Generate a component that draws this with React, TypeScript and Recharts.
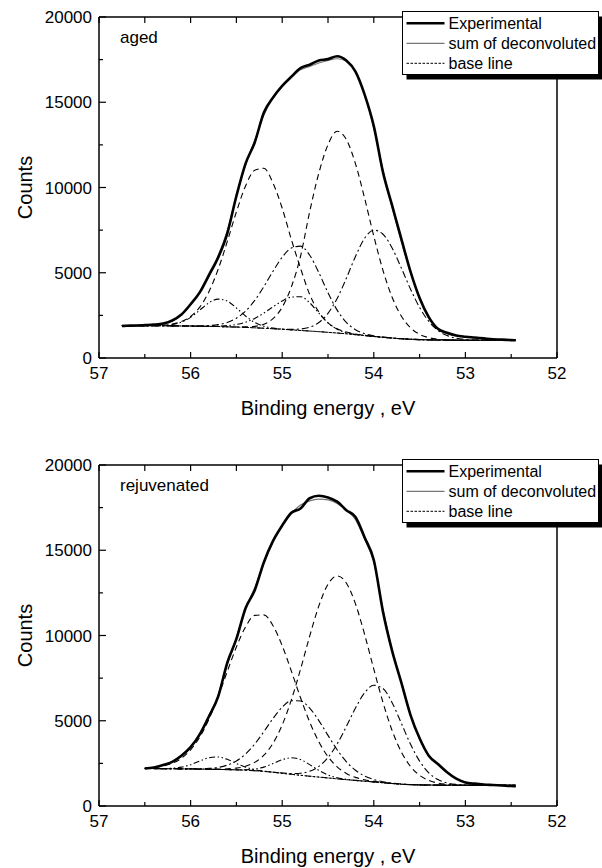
import React from 'react';
import { LineChart, Line, XAxis, YAxis, Label } from 'recharts';

// Binding-energy grids (eV)
const agedEnergy = [56.75, 56.7, 56.6, 56.5, 56.4, 56.3, 56.2, 56.1, 56.0, 55.9, 55.8, 55.7, 55.6, 55.5, 55.4, 55.3, 55.2, 55.1, 55.0, 54.9, 54.8, 54.7, 54.6, 54.5, 54.4, 54.3, 54.2, 54.1, 54.0, 53.9, 53.8, 53.7, 53.6, 53.5, 53.4, 53.3, 53.2, 53.1, 53.0, 52.9, 52.8, 52.7, 52.6, 52.5, 52.45];
const rejEnergy = [56.5, 56.4, 56.3, 56.2, 56.1, 56.0, 55.9, 55.8, 55.7, 55.6, 55.5, 55.4, 55.3, 55.2, 55.1, 55.0, 54.9, 54.8, 54.7, 54.6, 54.5, 54.4, 54.3, 54.2, 54.1, 54.0, 53.9, 53.8, 53.7, 53.6, 53.5, 53.4, 53.3, 53.2, 53.1, 53.0, 52.9, 52.8, 52.7, 52.6, 52.5, 52.45];

// aged sample (counts)
const agedExperimental = [1880, 1890, 1905, 1930, 1960, 2020, 2200, 2550, 3150, 3850, 4850, 5880, 7300, 9500, 11400, 12640, 14400, 15280, 15960, 16500, 17000, 17200, 17450, 17530, 17700, 17450, 16800, 15450, 13600, 10900, 8950, 7000, 5080, 3520, 2400, 1710, 1480, 1320, 1250, 1200, 1150, 1100, 1080, 1050, 1040];
const agedSum = [1890, 1895, 1905, 1925, 1955, 2020, 2180, 2530, 3120, 3900, 4950, 6000, 7450, 9500, 11350, 12750, 14250, 15250, 15950, 16450, 16900, 17100, 17300, 17450, 17550, 17400, 16800, 15450, 13500, 11000, 8800, 6850, 5050, 3500, 2350, 1680, 1420, 1300, 1220, 1180, 1140, 1100, 1075, 1050, 1040];
const agedBase = [1900, 1900, 1900, 1900, 1895, 1890, 1885, 1880, 1875, 1865, 1855, 1845, 1830, 1815, 1795, 1770, 1745, 1715, 1685, 1650, 1615, 1580, 1545, 1505, 1465, 1420, 1370, 1320, 1265, 1215, 1170, 1130, 1100, 1080, 1065, 1055, 1050, 1045, 1045, 1040, 1040, 1040, 1040, 1040, 1040];
// deconvoluted components, height above the base line
const agedPeak1 = [0, 0, 0, 0, 0, 20, 75, 220, 510, 940, 1380, 1610, 1510, 1120, 670, 320, 120, 35, 10, 0, 0, 0, 0, 0, 0, 0, 0, 0, 0, 0, 0, 0, 0, 0, 0, 0, 0, 0, 0, 0, 0, 0, 0, 0, 0];
const agedPeak2 = [0, 0, 0, 0, 13, 39, 104, 254, 561, 1120, 2033, 3347, 4992, 6758, 8296, 9237, 9380, 8540, 7100, 5300, 3650, 2150, 1150, 560, 250, 100, 35, 10, 0, 0, 0, 0, 0, 0, 0, 0, 0, 0, 0, 0, 0, 0, 0, 0, 0];
const agedPeak3 = [0, 0, 0, 0, 0, 0, 0, 0, 5, 17, 46, 113, 254, 518, 957, 1607, 2446, 3376, 4226, 4797, 4945, 4450, 3461, 2322, 1342, 670, 288, 107, 34, 10, 0, 0, 0, 0, 0, 0, 0, 0, 0, 0, 0, 0, 0, 0, 0];
const agedPeak4 = [0, 0, 0, 0, 0, 0, 0, 0, 0, 0, 10, 27, 68, 152, 307, 553, 892, 1287, 1662, 1920, 1980, 1662, 1087, 553, 220, 68, 16, 0, 0, 0, 0, 0, 0, 0, 0, 0, 0, 0, 0, 0, 0, 0, 0, 0, 0];
const agedPeak5 = [0, 0, 0, 0, 0, 0, 0, 0, 0, 0, 0, 0, 0, 0, 28, 86, 239, 592, 1295, 2520, 4353, 7000, 9300, 11008, 11830, 11398, 10020, 8044, 5885, 3928, 2393, 1330, 674, 311, 131, 50, 18, 6, 0, 0, 0, 0, 0, 0, 0];
const agedPeak6 = [0, 0, 0, 0, 0, 0, 0, 0, 0, 0, 0, 0, 0, 0, 0, 0, 0, 0, 8, 28, 86, 229, 538, 1115, 2029, 3253, 4588, 5702, 6234, 6045, 5281, 4156, 2950, 1884, 1086, 563, 264, 111, 42, 14, 4, 0, 0, 0, 0];

// rejuvenated sample (counts)
const rejExperimental = [2200, 2260, 2400, 2590, 2950, 3450, 4200, 5250, 6400, 8400, 9800, 11600, 12650, 14300, 15550, 16450, 17200, 17450, 18050, 18200, 18100, 17850, 17350, 16950, 15750, 14430, 11400, 9100, 7250, 5350, 3970, 2950, 2460, 1980, 1600, 1380, 1310, 1260, 1230, 1200, 1170, 1160];
const rejSum = [2210, 2270, 2400, 2610, 2990, 3450, 4250, 5300, 6500, 8300, 9850, 11600, 12800, 14250, 15500, 16450, 17150, 17650, 17900, 18000, 17950, 17750, 17350, 16800, 15650, 14300, 11500, 9150, 7200, 5350, 3950, 2950, 2430, 1960, 1600, 1400, 1310, 1260, 1230, 1210, 1190, 1180];
const rejBase = [2200, 2195, 2190, 2185, 2180, 2175, 2165, 2155, 2145, 2135, 2120, 2100, 2070, 2030, 1980, 1920, 1860, 1800, 1745, 1695, 1645, 1595, 1545, 1500, 1455, 1410, 1365, 1320, 1280, 1255, 1240, 1230, 1225, 1220, 1218, 1215, 1215, 1215, 1215, 1215, 1215, 1215];
const rejPeak1 = [0, 0, 7, 30, 99, 248, 469, 673, 731, 602, 376, 178, 64, 17, 4, 0, 0, 0, 0, 0, 0, 0, 0, 0, 0, 0, 0, 0, 0, 0, 0, 0, 0, 0, 0, 0, 0, 0, 0, 0, 0, 0];
const rejPeak2 = [28, 68, 152, 319, 620, 1120, 1880, 2937, 4262, 5751, 7210, 8406, 9110, 9177, 8596, 7479, 6052, 4551, 3182, 2068, 1249, 702, 366, 178, 80, 33, 13, 5, 0, 0, 0, 0, 0, 0, 0, 0, 0, 0, 0, 0, 0, 0];
const rejPeak3 = [0, 0, 0, 0, 0, 6, 18, 49, 119, 262, 523, 950, 1563, 2331, 3156, 3874, 4314, 4356, 3990, 3314, 2498, 1706, 1057, 594, 303, 140, 59, 22, 8, 0, 0, 0, 0, 0, 0, 0, 0, 0, 0, 0, 0, 0];
const rejPeak4 = [0, 0, 0, 0, 0, 0, 0, 0, 0, 0, 7, 29, 97, 251, 506, 793, 969, 922, 683, 394, 177, 62, 17, 4, 0, 0, 0, 0, 0, 0, 0, 0, 0, 0, 0, 0, 0, 0, 0, 0, 0, 0];
const rejPeak5 = [0, 0, 0, 0, 0, 0, 0, 6, 16, 42, 103, 232, 487, 947, 1700, 2832, 4363, 6221, 8214, 10039, 11357, 11900, 11534, 10353, 8602, 6617, 4713, 3106, 1894, 1071, 560, 271, 121, 50, 19, 7, 0, 0, 0, 0, 0, 0];
const rejPeak6 = [0, 0, 0, 0, 0, 0, 0, 0, 0, 0, 0, 0, 0, 0, 5, 16, 47, 124, 295, 629, 1198, 2041, 3112, 4248, 5189, 5672, 5525, 4741, 3580, 2381, 1393, 718, 326, 130, 45, 14, 4, 0, 0, 0, 0, 0];

const xTicks = [52, 52.5, 53, 53.5, 54, 54.5, 55, 55.5, 56, 56.5, 57];
const yTicks = [0, 2500, 5000, 7500, 10000, 12500, 15000, 17500, 20000];

const FONT = '"Liberation Sans", Arial, Helvetica, sans-serif';
const DASH = '6 4';
const DASH_DOT = '7 3 2 3';
const DASH_DOT_DOT = '6 2.5 1.5 2.5 1.5 2.5';
const BASE_DASH = '2.5 1.5';

const axisLine = { stroke: '#000', strokeWidth: 1.5 };

const BottomTick = (props: any) => {
  const { x, y, payload } = props;
  const major = Number.isInteger(payload.value);
  return (
    <g>
      <line x1={x} y1={y} x2={x} y2={y - (major ? 6 : 4)} stroke="#000" strokeWidth={1.2} />
      {major && (
        <text x={x} y={y + 21} textAnchor="middle" fontSize={17} fontFamily={FONT} fill="#000">
          {payload.value}
        </text>
      )}
    </g>
  );
};

const TopTick = (props: any) => {
  const { x, y } = props;
  return <line x1={x} y1={y} x2={x} y2={y + 6} stroke="#000" strokeWidth={1.2} />;
};

const LeftTick = (props: any) => {
  const { x, y, payload } = props;
  const major = payload.value % 5000 === 0;
  return (
    <g>
      <line x1={x} y1={y} x2={x + (major ? 7 : 4)} y2={y} stroke="#000" strokeWidth={1.2} />
      {major && (
        <text x={x - 7} y={y} dy="0.36em" textAnchor="end" fontSize={17} fontFamily={FONT} fill="#000">
          {payload.value}
        </text>
      )}
    </g>
  );
};

const RightTick = (props: any) => {
  const { x, y, payload } = props;
  const major = payload.value % 5000 === 0;
  return <line x1={x} y1={y} x2={x - (major ? 7 : 4)} y2={y} stroke="#000" strokeWidth={1.2} />;
};

interface Peak {
  key: string;
  values: number[];
  dash: string;
}

interface PanelProps {
  top: number;
  height: number;
  axisHeight: number;
  name: string;
  energy: number[];
  experimental: number[];
  sum: number[];
  base: number[];
  peaks: Peak[];
}

const LegendBox = () => (
  <g transform="translate(402.5, 11.5)">
    <rect x={4} y={5} width={196} height={63} fill="#000" />
    <rect x={0} y={0} width={196} height={63} fill="#fff" stroke="#000" strokeWidth={1} />
    <line x1={4} y1={11.8} x2={42} y2={11.8} stroke="#000" strokeWidth={2.6} />
    <line x1={4} y1={31.8} x2={42} y2={31.8} stroke="#777" strokeWidth={1.2} />
    <line x1={4} y1={51.8} x2={42} y2={51.8} stroke="#000" strokeWidth={1} strokeDasharray={BASE_DASH} />
    <text x={46} y={17.6} fontSize={16} fontFamily={FONT} fill="#000">Experimental</text>
    <text x={46} y={37.6} fontSize={16} fontFamily={FONT} fill="#000">sum of deconvoluted</text>
    <text x={46} y={57.6} fontSize={16} fontFamily={FONT} fill="#000">base line</text>
  </g>
);

const Panel = ({ top, height, axisHeight, name, energy, experimental, sum, base, peaks }: PanelProps) => {
  const data = energy.map((e, i) => {
    const row: Record<string, number> = {
      energy: e,
      experimental: experimental[i],
      sum: sum[i],
      base: base[i],
    };
    peaks.forEach(p => {
      row[p.key] = base[i] + p.values[i];
    });
    return row;
  });

  return (
    <div style={{ position: 'absolute', left: 0, top, width: 602, height }}>
      <LineChart width={602} height={height} data={data} margin={{ top: 0, right: 0, bottom: 0, left: 0 }}>
        <XAxis
          xAxisId="bottom"
          dataKey="energy"
          type="number"
          domain={[52, 57]}
          reversed
          allowDataOverflow
          ticks={xTicks}
          interval={0}
          height={axisHeight}
          tickSize={0}
          tickMargin={0}
          tickLine={false}
          axisLine={axisLine}
          tick={<BottomTick />}
        >
          <Label
            value="Binding energy , eV"
            position="insideTop"
            offset={43}
            fontSize={20}
            fontFamily={FONT}
            fill="#000"
          />
        </XAxis>
        <XAxis
          xAxisId="top"
          orientation="top"
          dataKey="energy"
          type="number"
          domain={[52, 57]}
          reversed
          allowDataOverflow
          ticks={xTicks}
          interval={0}
          height={17}
          tickSize={0}
          tickMargin={0}
          tickLine={false}
          axisLine={axisLine}
          tick={<TopTick />}
        />
        <YAxis
          yAxisId="left"
          type="number"
          domain={[0, 20000]}
          ticks={yTicks}
          interval={0}
          width={99}
          tickSize={0}
          tickMargin={0}
          tickLine={false}
          axisLine={axisLine}
          tick={<LeftTick />}
        >
          <Label
            value="Counts"
            angle={-90}
            position="insideLeft"
            offset={25}
            fontSize={20}
            fontFamily={FONT}
            fill="#000"
            style={{ textAnchor: 'middle' }}
          />
        </YAxis>
        <YAxis
          yAxisId="right"
          orientation="right"
          type="number"
          domain={[0, 20000]}
          ticks={yTicks}
          interval={0}
          width={45}
          tickSize={0}
          tickMargin={0}
          tickLine={false}
          axisLine={axisLine}
          tick={<RightTick />}
        />
        {peaks.map(p => (
          <Line
            key={p.key}
            xAxisId="bottom"
            yAxisId="left"
            type="monotone"
            dataKey={p.key}
            stroke="#000"
            strokeWidth={1.1}
            strokeDasharray={p.dash}
            dot={false}
            activeDot={false}
            isAnimationActive={false}
          />
        ))}
        <Line xAxisId="bottom" yAxisId="left" type="monotone" dataKey="base" stroke="#000" strokeWidth={1}
          strokeDasharray={BASE_DASH} dot={false} activeDot={false} isAnimationActive={false} />
        <Line xAxisId="bottom" yAxisId="left" type="monotone" dataKey="sum" stroke="#777" strokeWidth={1.2}
          dot={false} activeDot={false} isAnimationActive={false} />
        <Line xAxisId="bottom" yAxisId="left" type="monotone" dataKey="experimental" stroke="#000" strokeWidth={2.6}
          dot={false} activeDot={false} isAnimationActive={false} />
      </LineChart>
      <svg
        width={602}
        height={height}
        style={{ position: 'absolute', left: 0, top: 0, pointerEvents: 'none' }}
      >
        <text x={120} y={42.5} fontSize={17} fontFamily={FONT} fill="#000">{name}</text>
        <LegendBox />
      </svg>
    </div>
  );
};

export default function App() {
  const agedPeaks: Peak[] = [
    { key: 'p1', values: agedPeak1, dash: DASH_DOT_DOT },
    { key: 'p2', values: agedPeak2, dash: DASH },
    { key: 'p3', values: agedPeak3, dash: DASH_DOT },
    { key: 'p4', values: agedPeak4, dash: DASH_DOT_DOT },
    { key: 'p5', values: agedPeak5, dash: DASH },
    { key: 'p6', values: agedPeak6, dash: DASH_DOT },
  ];
  const rejPeaks: Peak[] = [
    { key: 'p1', values: rejPeak1, dash: DASH_DOT_DOT },
    { key: 'p2', values: rejPeak2, dash: DASH },
    { key: 'p3', values: rejPeak3, dash: DASH_DOT },
    { key: 'p4', values: rejPeak4, dash: DASH_DOT_DOT },
    { key: 'p5', values: rejPeak5, dash: DASH },
    { key: 'p6', values: rejPeak6, dash: DASH_DOT },
  ];

  return (
    <div style={{ position: 'absolute', left: 0, top: 0, width: 602, height: 868, background: '#fff', overflow: 'hidden' }}>
      <Panel
        top={0}
        height={448}
        axisHeight={90}
        name="aged"
        energy={agedEnergy}
        experimental={agedExperimental}
        sum={agedSum}
        base={agedBase}
        peaks={agedPeaks}
      />
      <Panel
        top={448}
        height={420}
        axisHeight={62}
        name="rejuvenated"
        energy={rejEnergy}
        experimental={rejExperimental}
        sum={rejSum}
        base={rejBase}
        peaks={rejPeaks}
      />
    </div>
  );
}
